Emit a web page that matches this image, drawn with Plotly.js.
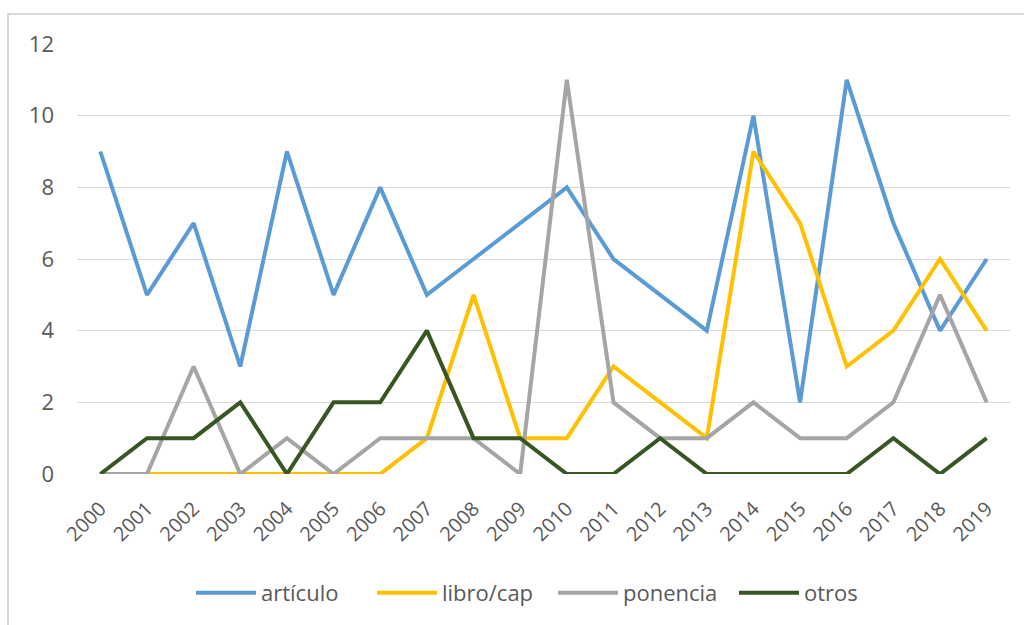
<!DOCTYPE html>
<html>
<head>
<meta charset="utf-8">
<script src="https://cdn.plot.ly/plotly-3.0.1.min.js"></script>
<style>
  html, body { margin: 0; padding: 0; background: #fff; }
  #chart { width: 1024px; height: 625px; }
</style>
</head>
<body>
<div id="chart"></div>
<script>
const years = ["2000","2001","2002","2003","2004","2005","2006","2007","2008","2009",
               "2010","2011","2012","2013","2014","2015","2016","2017","2018","2019"];
const articulo = [9,5,7,3,9,5,8,5,6,7,8,6,5,4,10,2,11,7,4,6];
const libroCap = [0,0,0,0,0,0,0,1,5,1,1,3,2,1,9,7,3,4,6,4];
const ponencia = [0,0,3,0,1,0,1,1,1,0,11,2,1,1,2,1,1,2,5,2];
const otros    = [0,1,1,2,0,2,2,4,1,1,0,0,1,0,0,0,0,1,0,1];
const seriesNames = ["artículo","libro/cap","ponencia","otros"];
const seriesColors = ["#5B9BD5","#FFC000","#A5A5A5","#375623"];
const seriesValues = [articulo, libroCap, ponencia, otros];

const traces = seriesValues.map((vals, i) => ({
  type: "scatter",
  mode: "lines",
  x: years,
  y: vals,
  name: seriesNames[i],
  line: { color: seriesColors[i], width: 4 },
  hoverinfo: "x+y+name"
}));

const L = 77, R = 14, T = 44, B = 150;
const W = 1024 - L - R, H = 625 - T - B;
const px = x => (x - L) / W;
const py = y => (625 - B - y) / H;

const font = { family: "Open Sans, Noto Sans, sans-serif", color: "#595959" };

const layout = {
  width: 1024, height: 625,
  margin: { l: L, r: R, t: T, b: B, pad: 0 },
  paper_bgcolor: "#fff",
  plot_bgcolor: "#fff",
  font: Object.assign({ size: 20 }, font),
  showlegend: true,
  legend: {
    orientation: "h",
    x: px(553), xanchor: "center",
    y: py(593), yanchor: "middle",
    font: Object.assign({ size: 22 }, font),
    itemwidth: 60,
    entrywidth: 106,
    tracegroupgap: 0
  },
  xaxis: {
    type: "category",
    range: [-0.5, 19.5],
    showgrid: false,
    zeroline: false,
    showline: false,
    ticks: "",
    tickangle: -45,
    ticklabelstandoff: 18,
    tickfont: Object.assign({ size: 20 }, font),
    fixedrange: true
  },
  yaxis: {
    range: [0, 12],
    dtick: 2,
    tick0: 0,
    showgrid: true,
    gridcolor: "#D9D9D9",
    gridwidth: 1,
    zeroline: false,
    showline: false,
    ticks: "",
    ticklabelstandoff: 22,
    tickfont: Object.assign({ size: 22 }, font),
    fixedrange: true
  },
  shapes: [{
    type: "rect", xref: "paper", yref: "paper",
    x0: px(8), x1: px(1040), y0: py(14), y1: py(640),
    line: { color: "#D9D9D9", width: 2 },
    fillcolor: "rgba(0,0,0,0)",
    layer: "below"
  }]
};

Plotly.newPlot("chart", traces, layout, { displayModeBar: false });
</script>
</body>
</html>
